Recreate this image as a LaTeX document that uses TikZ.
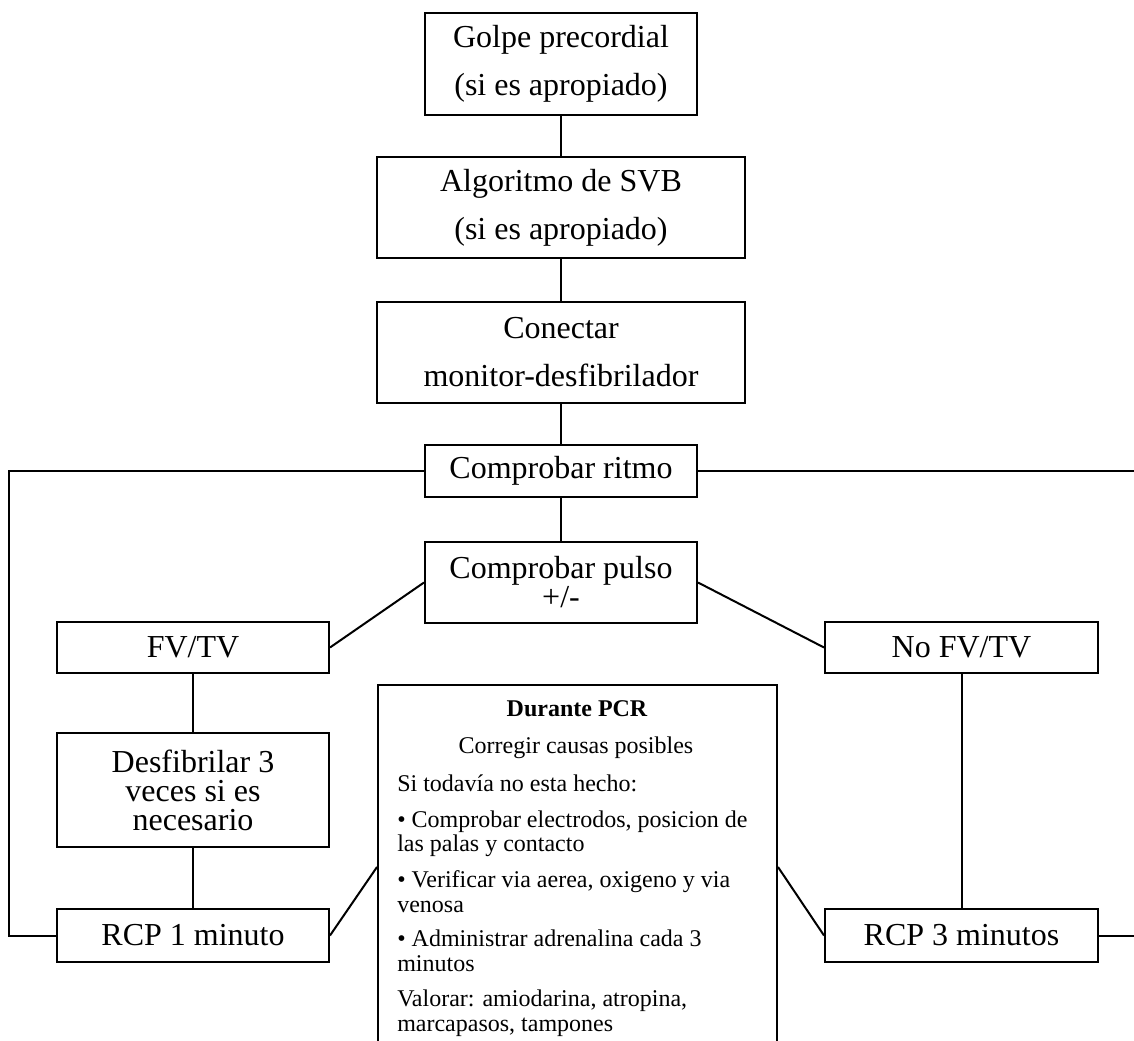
\documentclass[tikz,border=0pt]{standalone}
\usepackage{fontspec}
\setmainfont{Liberation Serif}
\begin{document}
\begin{tikzpicture}[x=0.75pt,y=-0.75pt,
  box/.style={draw, line width=1.5pt, inner sep=0pt, align=center,
    font=\fontsize{24}{36}\selectfont},
  tightbox/.style={box, font=\fontsize{24}{21.75}\selectfont},
  link/.style={draw, line width=1.5pt},
  note/.style={inner sep=0pt, anchor=base west, font=\fontsize{18}{16.5}\selectfont},
  notetitle/.style={inner sep=0pt, anchor=base, font=\fontsize{18}{16.5}\selectfont\bfseries}]
\useasboundingbox (0,0) rectangle (1134,1041);
\clip (0,0) rectangle (1134,1041);

% main column
\node[box, minimum width=204pt, minimum height=76.5pt] (golpe) at (561,64) {Golpe precordial\\(si es apropiado)};
\node[box, minimum width=276pt, minimum height=75.75pt] (svb) at (561,207.5) {Algoritmo de SVB\\(si es apropiado)};
\node[box, minimum width=276pt, minimum height=75.75pt] (conectar) at (561,352.5) {Conectar\\monitor-desfibrilador};
\node[box, minimum width=204pt, minimum height=39pt] (ritmo) at (561,471) {Comprobar ritmo};
\node[tightbox, minimum width=204pt, minimum height=60.75pt] (pulso) at (561,582.5) {Comprobar pulso\\+/-};

% branches
\node[box, minimum width=204pt, minimum height=38.25pt] (fv) at (193,647.5) {FV/TV};
\node[box, minimum width=204.75pt, minimum height=38.25pt] (nofv) at (961.5,647.5) {No FV/TV};
\node[tightbox, minimum width=204pt, minimum height=85.5pt] (desf) at (193,790) {Desfibrilar 3\\veces si es\\necesario};
\node[box, minimum width=204pt, minimum height=39.75pt] (rcp1) at (193,935.5) {RCP 1 minuto};
\node[box, minimum width=204.75pt, minimum height=39.75pt] (rcp3) at (961.5,935.5) {RCP 3 minutos};

% box with the actions during CPR
\node[draw, line width=1.5pt, inner sep=0pt, minimum width=299.25pt, minimum height=273pt] (durante) at (577.5,867) {};
\node[notetitle] (d0) at (577,716) {Durante PCR};
\node[note, anchor=base] (d1) at (576,753) {Corregir causas posibles};
\node[note] (d2) at (397,791) {Si todavía no esta hecho:};
\node[note] (d3) at (397,827) {• Comprobar electrodos, posicion de};
\node[note] (d4) at (397,851) {las palas y contacto};
\node[note] (d5) at (397,887) {• Verificar via aerea, oxigeno y via};
\node[note] (d6) at (397,912) {venosa};
\node[note] (d7) at (397,946) {• Administrar adrenalina cada 3};
\node[note] (d8) at (397,971) {minutos};
\node[note] (d9) at (397,1006) {Valorar: amiodarina, atropina,};
\node[note] (d10) at (397,1031) {marcapasos, tampones};

% connectors
\draw[link] (golpe) -- (svb);
\draw[link] (svb) -- (conectar);
\draw[link] (conectar) -- (ritmo);
\draw[link] (ritmo) -- (pulso);
\draw[link] (pulso.west) -- (fv.east);
\draw[link] (pulso.east) -- (nofv.west);
\draw[link] (fv) -- (desf);
\draw[link] (desf) -- (rcp1);
\draw[link] (nofv) -- (rcp3);
\draw[link] (rcp1.east) -- (durante.west);
\draw[link] (rcp3.west) -- (durante.east);

% loops back to the rhythm check
\coordinate (lc) at (9,471);
\coordinate (rc) at (1150,471);
\draw[link] (ritmo.west) -- (lc) |- (rcp1.west);
\draw[link] (ritmo.east) -- (rc) |- (rcp3.east);
\end{tikzpicture}
\end{document}
